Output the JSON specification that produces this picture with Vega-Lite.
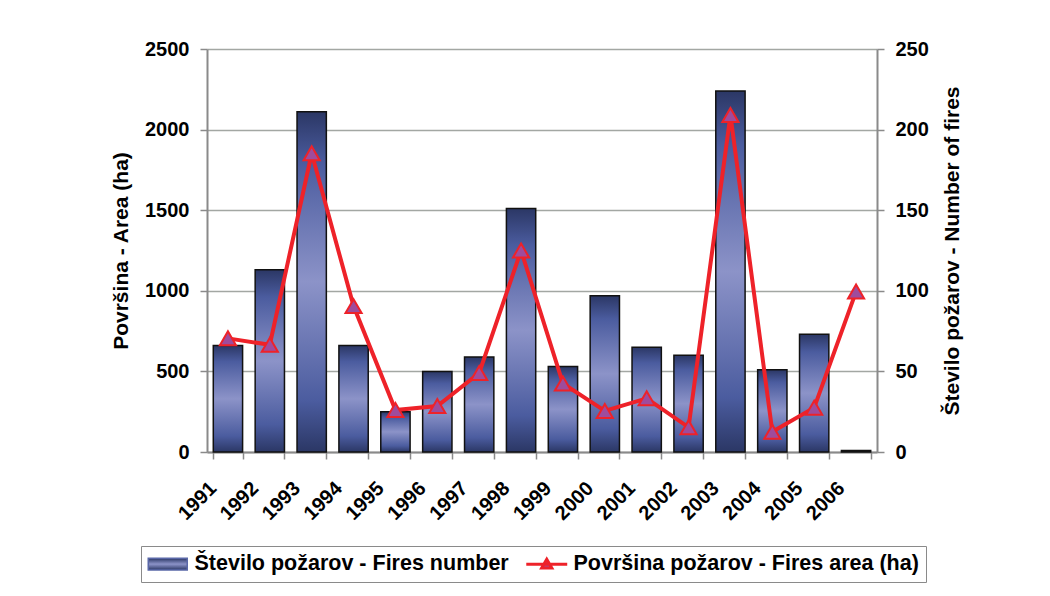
{
  "$schema": "https://vega.github.io/schema/vega-lite/v6.json",
  "width": 670,
  "height": 403,
  "autosize": "none",
  "padding": {"left": 207, "top": 49, "right": 173, "bottom": 144},
  "background": "white",
  "config": {
    "view": {"stroke": null},
    "font": "Liberation Sans",
    "axis": {
      "labelFont": "Liberation Sans",
      "titleFont": "Liberation Sans",
      "labelFontSize": 20,
      "labelFontWeight": "bold",
      "labelColor": "black",
      "titleFontSize": 21,
      "titleFontWeight": "bold",
      "titleColor": "black",
      "domainColor": "#8a8a8a",
      "domainWidth": 2,
      "tickColor": "#8a8a8a",
      "tickWidth": 1.5,
      "tickSize": 7,
      "labelPadding": 11
    }
  },
  "data": {
    "values": [
      {"year": "1991", "fires": 66, "area": 705},
      {"year": "1992", "fires": 113, "area": 665},
      {"year": "1993", "fires": 211, "area": 1853},
      {"year": "1994", "fires": 66, "area": 905},
      {"year": "1995", "fires": 25, "area": 260},
      {"year": "1996", "fires": 50, "area": 285},
      {"year": "1997", "fires": 59, "area": 490},
      {"year": "1998", "fires": 151, "area": 1250},
      {"year": "1999", "fires": 53, "area": 425},
      {"year": "2000", "fires": 97, "area": 255},
      {"year": "2001", "fires": 65, "area": 333},
      {"year": "2002", "fires": 60, "area": 153},
      {"year": "2003", "fires": 224, "area": 2090},
      {"year": "2004", "fires": 51, "area": 126},
      {"year": "2005", "fires": 73, "area": 275},
      {"year": "2006", "fires": 1, "area": 995}
    ]
  },
  "encoding": {
    "x": {
      "field": "year",
      "type": "nominal",
      "sort": null,
      "scale": {"paddingInner": 0.3, "paddingOuter": 0.15},
      "axis": {
        "title": null,
        "labelAngle": -45,
        "labelAlign": "right",
        "labelBaseline": "middle",
        "labelPadding": 26,
        "labelOffset": -15,
        "tickBand": "extent",
        "grid": false
      }
    }
  },
  "layer": [
    {
      "mark": {
        "type": "bar",
        "fill": {
          "gradient": "linear",
          "x1": 0, "y1": 0, "x2": 0, "y2": 1,
          "stops": [
            {"offset": 0, "color": "#2b3765"},
            {"offset": 0.15, "color": "#4b5c9f"},
            {"offset": 0.5, "color": "#8c93c8"},
            {"offset": 0.85, "color": "#4b5c9f"},
            {"offset": 1, "color": "#2b3765"}
          ]
        },
        "stroke": "#111111",
        "strokeWidth": 1.5
      },
      "encoding": {
        "y": {
          "field": "fires",
          "type": "quantitative",
          "scale": {"domain": [0, 250], "nice": false},
          "axis": {
            "orient": "right",
            "values": [0, 50, 100, 150, 200, 250],
            "format": "d",
            "title": "Število požarov - Number of fires",
            "titleAngle": 270,
            "titleBaseline": "top",
            "titlePadding": 13,
            "grid": false
          }
        }
      }
    },
    {
      "encoding": {
        "y": {
          "field": "area",
          "type": "quantitative",
          "scale": {"domain": [0, 2500], "nice": false},
          "axis": {
            "orient": "left",
            "values": [0, 500, 1000, 1500, 2000, 2500],
            "format": "d",
            "title": "Površina - Area (ha)",
            "titlePadding": 13,
            "grid": true,
            "gridColor": "#a3a7a3",
            "gridWidth": 1.5
          }
        }
      },
      "layer": [
        {
          "mark": {"type": "line", "strokeWidth": 4},
          "encoding": {
            "color": {
              "datum": "Površina požarov - Fires area (ha)",
              "scale": {
                "domain": ["Število požarov - Fires number", "Površina požarov - Fires area (ha)"],
                "range": ["#5a68a8", "#ee2229"]
              },
              "legend": {
                "orient": "none",
                "legendX": -66,
                "legendY": 497,
                "direction": "horizontal",
                "title": null,
                "labelFont": "Liberation Sans",
                "labelFontSize": 21.5,
                "labelFontWeight": "bold",
                "labelColor": "black",
                "labelLimit": 0,
                "symbolSize": 1521,
                "symbolStrokeWidth": 2,
                "symbolOffset": 9,
                "strokeColor": "#8a8a8a",
                "padding": 7,
                "labelOffset": 16,
                "columnPadding": 11,
                "encode": {
                  "symbols": {
                    "update": {
                      "shape": {"signal": "datum.value === 'Število požarov - Fires number' ? 'M-1,-0.3H1V0.3H-1Z' : 'M-1.05,0H1.05M0,-0.25L0.26,0.2L-0.26,0.2Z'"},
                      "fill": {"signal": "datum.value === 'Število požarov - Fires number' ? {gradient: 'linear', x1: 0, y1: 0, x2: 0, y2: 1, stops: [{offset: 0, color: '#2b3765'}, {offset: 0.5, color: '#8c93c8'}, {offset: 1, color: '#2b3765'}]} : '#9e4c9c'"},
                      "stroke": {"signal": "datum.value === 'Število požarov - Fires number' ? '#111111' : '#ee2229'"},
                      "strokeWidth": {"signal": "datum.value === 'Število požarov - Fires number' ? 1.5 : 3"},
                      "opacity": {"value": 1},
                      "fillOpacity": {"value": 1}
                    }
                  }
                }
              }
            }
          }
        },
        {
          "mark": {
            "type": "point",
            "shape": "triangle-up",
            "filled": true,
            "fill": "#9e4c9c",
            "stroke": "#ee2229",
            "strokeWidth": 2,
            "size": 260,
            "opacity": 1
          },
          "encoding": {}
        }
      ]
    }
  ],
  "resolve": {"scale": {"y": "independent"}}
}
